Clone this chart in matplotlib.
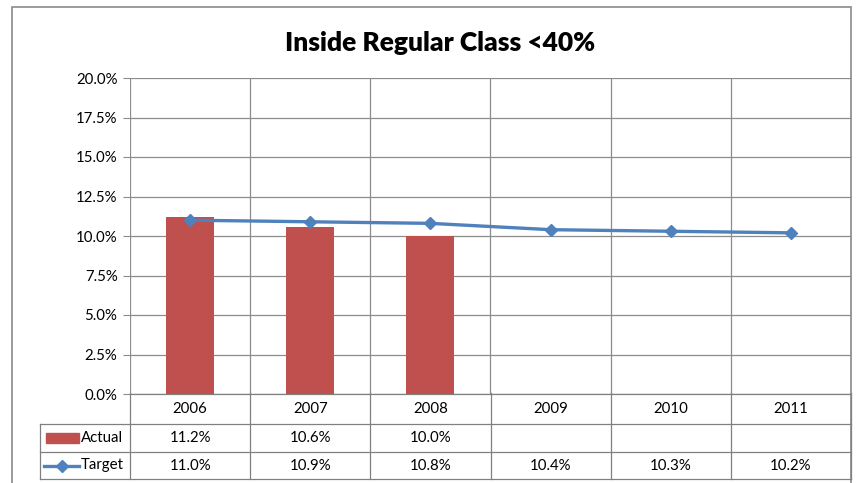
import matplotlib
matplotlib.use("Agg")
import matplotlib.pyplot as plt
from matplotlib.lines import Line2D
from matplotlib.patches import Rectangle

years = ["2006", "2007", "2008", "2009", "2010", "2011"]
actual = [11.2, 10.6, 10.0]
target = [11.0, 10.9, 10.8, 10.4, 10.3, 10.2]
yticks = [0, 2.5, 5, 7.5, 10, 12.5, 15, 17.5, 20]
title = "Inside Regular Class <40%"

W, H = 857, 483
fig = plt.figure(figsize=(W / 100, H / 100), dpi=100)
FONT = ["Lato", "DejaVu Sans"]
plt.rcParams['font.family'] = FONT
FS = 10.8

def fx(px):
    return px / W

def fy(py):
    return 1 - py / H

L, R, T, B = 130, 851, 78, 394
ax = fig.add_axes([fx(L), fy(B), fx(R) - fx(L), fy(T) - fy(B)])
n = len(years)
ax.set_xlim(-0.5, n - 0.5)
ax.set_ylim(0, 20)
grid_c = "#8c8c8c"
for y in yticks:
    ax.axhline(y, color=grid_c, lw=0.9, zorder=0)
for i in range(n + 1):
    ax.axvline(i - 0.5, color=grid_c, lw=0.9, zorder=0)
ax.set_xticks([])
ax.set_yticks(yticks)
ax.set_yticklabels([f"{v:.1f}%" for v in yticks], fontsize=FS)
ax.tick_params(axis='y', length=5, color=grid_c, pad=4)
for s in ax.spines.values():
    s.set_visible(False)

red = "#C0504D"
blue = "#4F81BD"
ax.bar(range(len(actual)), actual, width=0.4, color=red, zorder=2)
ax.plot(range(n), target, color=blue, lw=2.4, marker="D", markersize=6.5, zorder=3)

fig.text(fx(440), fy(43), title, ha="center", va="center", fontsize=19, fontweight="heavy")

# outer frame
fig.add_artist(Rectangle((fx(12), fy(490)), fx(851.5) - fx(12), fy(7) - fy(490),
                         transform=fig.transFigure, fill=False, edgecolor="#8a8a8a", lw=1.2))

# data table
rows = [394, 424, 452, 479]
colx = [L + (R - L) * i / n for i in range(n + 1)]
tc = "#808080"
def hline(y, x0, x1):
    fig.add_artist(Line2D([fx(x0), fx(x1)], [fy(y), fy(y)], transform=fig.transFigure, color=tc, lw=0.9))
def vline(x, y0, y1):
    fig.add_artist(Line2D([fx(x), fx(x)], [fy(y0), fy(y1)], transform=fig.transFigure, color=tc, lw=0.9))

hline(rows[0], L, R)
for y in rows[1:]:
    hline(y, 40, R)
vline(40, rows[1], rows[3])
for x in colx:
    vline(x, rows[0] - 1, rows[3])

for i, yr in enumerate(years):
    cx = (colx[i] + colx[i + 1]) / 2
    fig.text(fx(cx), fy((rows[0] + rows[1]) / 2), yr, ha="center", va="center", fontsize=FS)
    if i < len(actual):
        fig.text(fx(cx), fy((rows[1] + rows[2]) / 2), f"{actual[i]:.1f}%", ha="center", va="center", fontsize=FS)
    fig.text(fx(cx), fy((rows[2] + rows[3]) / 2), f"{target[i]:.1f}%", ha="center", va="center", fontsize=FS)

ya = (rows[1] + rows[2]) / 2
yt = (rows[2] + rows[3]) / 2
fig.add_artist(Rectangle((fx(46), fy(ya + 5)), fx(79) - fx(46), fy(ya - 5) - fy(ya + 5),
                         transform=fig.transFigure, color=red))
fig.text(fx(81), fy(ya), "Actual", ha="left", va="center", fontsize=FS)
fig.add_artist(Line2D([fx(44), fx(79)], [fy(yt), fy(yt)], transform=fig.transFigure,
                      color=blue, lw=2.4))
fig.add_artist(Line2D([fx(62)], [fy(yt)], transform=fig.transFigure, color=blue, marker="D",
                      markersize=6.5, linestyle="none"))
fig.text(fx(81), fy(yt), "Target", ha="left", va="center", fontsize=FS)

fig.savefig("out.png", dpi=100)
